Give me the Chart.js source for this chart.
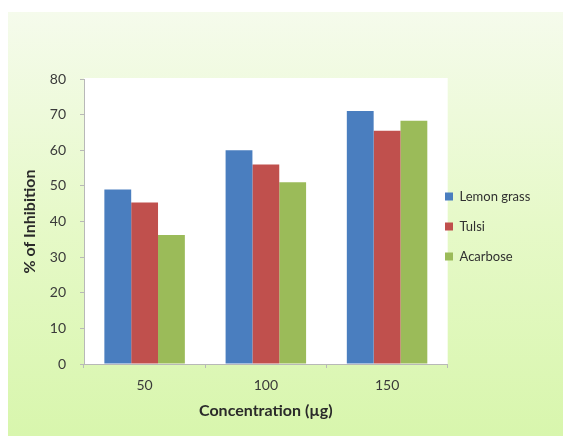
<!DOCTYPE html>
<html>
<head>
<meta charset="utf-8">
<script src="https://cdn.jsdelivr.net/npm/chart.js@4.4.1/dist/chart.umd.min.js"></script>
<style>
  html, body { margin: 0; padding: 0; background: #ffffff; }
  #wrap { width: 563px; height: 436px; position: relative; }
</style>
</head>
<body>
<div id="wrap"><canvas id="c" width="563" height="436"></canvas></div>
<script>
// Concentration levels and % inhibition for each extract
const categories = ['50', '100', '150'];
const lemonGrass = [49, 60, 71];
const tulsi = [45.3, 56, 65.5];
const acarbose = [36.2, 51, 68.3];
const yTicks = { min: 0, max: 80, step: 10 };

const FONT = 'Lato, "Open Sans", "Liberation Sans", sans-serif';

// Light green panel behind the chart and a white plot area
const panelPlugin = {
  id: 'panel',
  beforeDraw(chart) {
    const ctx = chart.ctx;
    ctx.save();
    ctx.fillStyle = '#ffffff';
    ctx.fillRect(0, 0, chart.width, chart.height);
    const g = ctx.createLinearGradient(0, 12, 0, chart.height);
    g.addColorStop(0, '#f5fbec');
    g.addColorStop(0.5, '#e6f9c8');
    g.addColorStop(1, '#d8f6ad');
    ctx.fillStyle = g;
    ctx.fillRect(8, 12, chart.width - 8, chart.height - 12);
    const a = chart.chartArea;
    ctx.fillStyle = '#ffffff';
    ctx.fillRect(a.left, a.top - 1, a.right - a.left, a.bottom - a.top + 1);
    ctx.restore();
  }
};

// Legend sits just beside the plot, level with the middle of the bars
const legendPlacePlugin = {
  id: 'legendPlace',
  afterLayout(chart) {
    const lg = chart.legend;
    if (!lg) return;
    const w = lg.width, h = lg.height;
    lg.left = 428;
    lg.right = lg.left + w;
    lg.top = 173;
    lg.bottom = lg.top + h;
  }
};

new Chart(document.getElementById('c'), {
  type: 'bar',
  data: {
    labels: categories,
    datasets: [
      { label: 'Lemon grass', data: lemonGrass, backgroundColor: '#4a7ebf' },
      { label: 'Tulsi', data: tulsi, backgroundColor: '#c0504d' },
      { label: 'Acarbose', data: acarbose, backgroundColor: '#9bbb59' }
    ]
  },
  options: {
    responsive: false,
    animation: false,
    devicePixelRatio: 1,
    layout: { padding: { left: 9, top: 79, right: 3, bottom: 0 } },
    datasets: { bar: { categoryPercentage: 0.664, barPercentage: 1, borderWidth: 0 } },
    plugins: {
      legend: {
        position: 'right',
        align: 'start',
        labels: {
          boxWidth: 8,
          boxHeight: 8,
          padding: 17,
          color: '#303030',
          font: { family: FONT, size: 13 }
        }
      },
      tooltip: { enabled: false }
    },
    scales: {
      x: {
        grid: { display: true, drawOnChartArea: false, drawTicks: true, tickLength: 4, color: '#b8b8b8' },
        border: { display: true, color: '#b8b8b8' },
        ticks: { color: '#3a3a3a', padding: 9, font: { family: FONT, size: 14 } },
        title: {
          display: true,
          text: 'Concentration (µg)',
          color: '#2a2a2a',
          padding: { top: 4, bottom: 16 },
          font: { family: FONT, size: 16, weight: 'bold' }
        },
        afterFit(scale) { scale.height = 72; }
      },
      y: {
        min: yTicks.min,
        max: yTicks.max,
        grid: { display: true, drawOnChartArea: false, drawTicks: true, tickLength: 4, color: '#b8b8b8' },
        border: { display: true, color: '#b8b8b8' },
        ticks: { stepSize: yTicks.step, color: '#3a3a3a', padding: 14, font: { family: FONT, size: 14 } },
        title: {
          display: true,
          text: '% of Inhibition',
          color: '#2a2a2a',
          padding: { top: 11, bottom: 4 },
          font: { family: FONT, size: 16, weight: 'bold' }
        },
        afterFit(scale) { scale.width = 75; }
      }
    }
  },
  plugins: [panelPlugin, legendPlacePlugin]
});
</script>
</body>
</html>
